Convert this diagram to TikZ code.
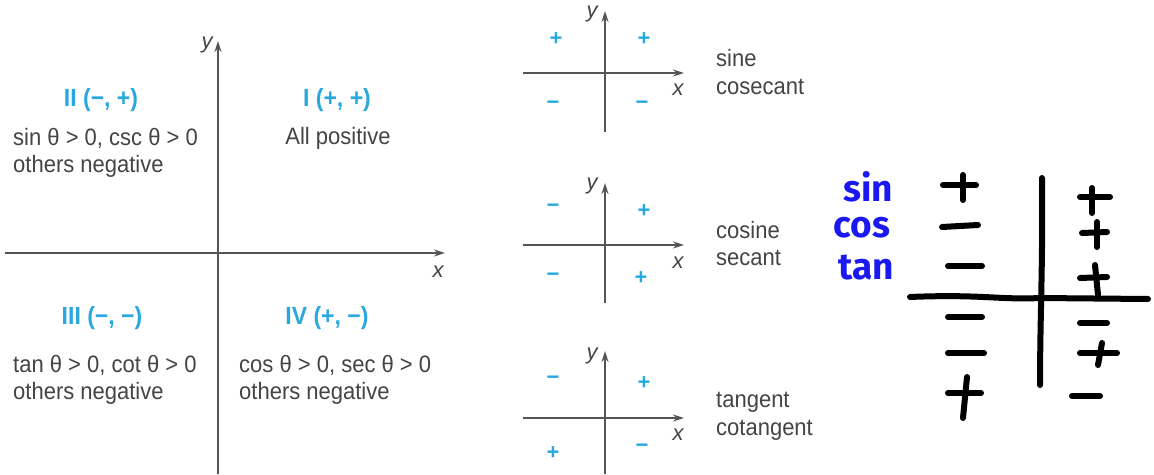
\documentclass[tikz,border=0pt]{standalone}
\usepackage{fontspec}
\setmainfont{Liberation Sans}
\newfontfamily\handfont{Fira Sans}
\usetikzlibrary{arrows.meta}
\definecolor{txtgray}{HTML}{444444}
\definecolor{axgray}{HTML}{555555}
\definecolor{signblue}{HTML}{29A8E0}
\definecolor{handblue}{HTML}{1A1AF0}
\tikzset{
  axis/.style={draw=axgray, line width=1.6pt},
  axarrow/.style={axis, -{Stealth[length=11pt,width=7pt]}},
  body/.style={text=txtgray, font=\fontsize{22}{26}\selectfont, inner sep=0pt, yscale=1.08},
  quad/.style={text=signblue, font=\fontsize{23}{26}\selectfont\bfseries, inner sep=0pt, yscale=1.08},
  axlabel/.style={text=txtgray, font=\fontsize{22}{26}\selectfont\itshape, inner sep=0pt},
  sign/.style={text=signblue, font=\fontsize{22}{24}\selectfont\bfseries, inner sep=0pt},
  hand/.style={line width=6pt, line cap=round, black},
  handtxt/.style={text=handblue, font=\fontsize{37}{38}\selectfont\handfont\bfseries, inner sep=0pt}
}
\begin{document}
\begin{tikzpicture}[x=1pt,y=-1pt]
\useasboundingbox (0,0) rectangle (1154,474);
% ---------- main quadrant diagram ----------
\coordinate (Yb) at (218,474);
\coordinate (Yt) at (218,41);
\coordinate (Xl) at (5,253);
\coordinate (Xr) at (445,253);
\draw[axarrow] (Yb) -- (Yt);
\draw[axarrow] (Xl) -- (Xr);
\node[axlabel] (ylab) at (207,45) {y};
\node[axlabel] (xlab) at (438,272) {x};
\node[quad] (q2) at (101,100) {II (−, +)};
\node[body, anchor=west] (q2a) at (13,138) {sin θ > 0, csc θ > 0};
\node[body, anchor=west] (q2b) at (13,166) {others negative};
\node[quad] (q1) at (337,100) {I (+, +)};
\node[body] (q1a) at (338,138) {All positive};
\node[quad] (q3) at (102,318) {III (−, −)};
\node[body, anchor=west] (q3a) at (13,365) {tan θ > 0, cot θ > 0};
\node[body, anchor=west] (q3b) at (13,393) {others negative};
\node[quad] (q4) at (327,318) {IV (+, −)};
\node[body, anchor=west] (q4a) at (239,365) {cos θ > 0, sec θ > 0};
\node[body, anchor=west] (q4b) at (239,393) {others negative};
% ---------- small diagram 1 ----------
\draw[axarrow] (605,132) coordinate (a1b) -- (605,11) coordinate (a1t);
\draw[axarrow] (523,73) coordinate (a1l) -- (684,73) coordinate (a1r);
\node[axlabel] (y1) at (592,14) {y};
\node[axlabel] (x1) at (678,90) {x};
\node[sign] (s11) at (556,39) {+};
\node[sign] (s12) at (644,39) {+};
\node[sign] (s13) at (553,105) {−};
\node[sign] (s14) at (642,105) {−};
\node[body, anchor=west] (t11) at (716,58) {sine};
\node[body, anchor=west] (t12) at (716,87) {cosecant};
% ---------- small diagram 2 ----------
\draw[axarrow] (605,303) coordinate (a2b) -- (605,183) coordinate (a2t);
\draw[axarrow] (523,245) coordinate (a2l) -- (684,245) coordinate (a2r);
\node[axlabel] (y2) at (592,186) {y};
\node[axlabel] (x2) at (678,263) {x};
\node[sign] (s21) at (553,208) {−};
\node[sign] (s22) at (644,211) {+};
\node[sign] (s23) at (553,277) {−};
\node[sign] (s24) at (641,278) {+};
\node[body, anchor=west] (t21) at (716,230) {cosine};
\node[body, anchor=west] (t22) at (716,258) {secant};
% ---------- small diagram 3 ----------
\draw[axarrow] (605,474) coordinate (a3b) -- (605,351) coordinate (a3t);
\draw[axarrow] (523,418) coordinate (a3l) -- (684,418) coordinate (a3r);
\node[axlabel] (y3) at (592,356) {y};
\node[axlabel] (x3) at (678,435) {x};
\node[sign] (s31) at (553,380) {−};
\node[sign] (s32) at (644,383) {+};
\node[sign] (s33) at (553,453) {+};
\node[sign] (s34) at (642,448) {−};
\node[body, anchor=west] (t31) at (716,402) {tangent};
\node[body, anchor=west] (t32) at (716,430) {cotangent};
% ---------- handwritten part ----------
\node[handtxt] (hs) at (868,187) {sin};
\node[handtxt] (hc) at (862,228) {cos};
\node[handtxt] (ht) at (866,268) {tan};
\draw[hand] (1042,178) .. controls (1043,260) and (1040,320) .. (1040,385);
\draw[hand] (910,297) .. controls (980,294) and (1000,300) .. (1040,298) -- (1148,299);
% left column
\draw[hand] (943,185) -- (976,185); \draw[hand] (963,175) -- (963,200);
\draw[hand] (942,227) -- (978,225);
\draw[hand] (948,266) -- (982,266);
\draw[hand] (948,317) -- (982,317);
\draw[hand] (948,353) -- (984,353);
\draw[hand] (948,393) -- (981,393); \draw[hand] (967,377) -- (963,418);
% right column
\draw[hand] (1080,197) -- (1110,197); \draw[hand] (1092,188) -- (1092,213);
\draw[hand] (1082,233) -- (1107,232); \draw[hand] (1097,222) -- (1097,247);
\draw[hand] (1080,278) -- (1107,277); \draw[hand] (1095,265) -- (1098,295);
\draw[hand] (1080,323) -- (1107,323);
\draw[hand] (1080,353) -- (1117,353); \draw[hand] (1102,343) -- (1098,365);
\draw[hand] (1072,396) -- (1100,396);
\end{tikzpicture}
\end{document}
